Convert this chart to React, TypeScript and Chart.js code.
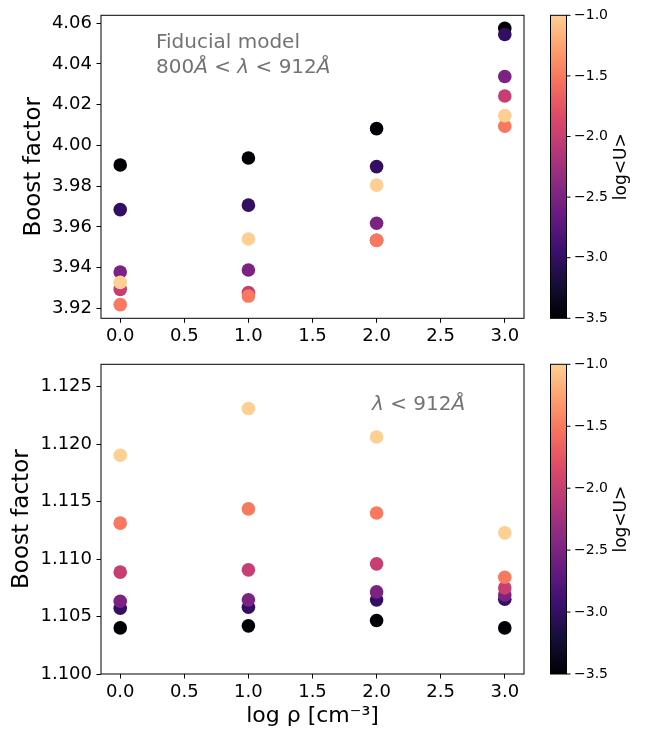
import React, { useEffect, useRef } from "react";
import { Chart, registerables } from "chart.js";

Chart.register(...registerables);

// ---------------- data ----------------
const xValues = [0, 1, 2, 3];
const uLevels = [-3.5, -3.0, -2.5, -2.0, -1.5, -1.0];

// top panel (800Å < λ < 912Å), one row per log<U> level
const topU35 = [3.9904, 3.9938, 4.0082, 4.0574];
const topU30 = [3.9685, 3.9707, 3.9896, 4.0544];
const topU25 = [3.9379, 3.9389, 3.9618, 4.0338];
const topU20 = [3.9294, 3.9278, 3.9535, 4.0242];
const topU15 = [3.9219, 3.9261, 3.9534, 4.0094];
const topU10 = [3.9328, 3.9541, 3.9805, 4.0146];

// bottom panel (λ < 912Å)
const botU35 = [1.10401, 1.10419, 1.10465, 1.10401];
const botU30 = [1.10572, 1.10581, 1.10645, 1.10651];
const botU25 = [1.10633, 1.10645, 1.10714, 1.10688];
const botU20 = [1.10886, 1.10906, 1.10958, 1.10749];
const botU15 = [1.11312, 1.11436, 1.11401, 1.10842];
const botU10 = [1.11903, 1.12309, 1.12062, 1.11228];

const topSeries = [topU35, topU30, topU25, topU20, topU15, topU10];
const botSeries = [botU35, botU30, botU25, botU20, botU15, botU10];

const xTicks = [0, 0.5, 1.0, 1.5, 2.0, 2.5, 3.0];
const topYTicks = [3.92, 3.94, 3.96, 3.98, 4.0, 4.02, 4.04, 4.06];
const botYTicks = [1.1, 1.105, 1.11, 1.115, 1.12, 1.125];
const cbarTicks = [-1.0, -1.5, -2.0, -2.5, -3.0, -3.5];
const cbarTickLabels = ["\u22121.0", "\u22121.5", "\u22122.0", "\u22122.5", "\u22123.0", "\u22123.5"];

const xLimits = [-0.15, 3.15];
const topYLimits = [3.9152, 4.0638];
const botYLimits = [1.1, 1.12694];
const cbarLimits = [-3.5, -1.0];

const yTitle = "Boost factor";
const xTitle = "log ρ [cm⁻³]";
const cbarTitle = "log<U>";

// ---------------- styling ----------------
const FONT = "DejaVu Sans";
const W = 649;
const H = 733;
const PLOT_LEFT = 101;
const PLOT_RIGHT = 524;
const CB_LEFT = 550.5;
const CB_RIGHT = 566.5;

const MAGMA = [
  [0, 0, 4],
  [20, 14, 54],
  [59, 15, 112],
  [100, 26, 128],
  [140, 41, 129],
  [183, 55, 121],
  [222, 73, 104],
  [247, 112, 92],
  [254, 159, 109],
  [254, 207, 146],
  [252, 253, 191],
];
const CMAP_MAX = 0.9;

function magma(t: number): string {
  const tt = Math.max(0, Math.min(1, t)) * 10;
  const i = Math.min(9, Math.floor(tt));
  const f = tt - i;
  const a = MAGMA[i];
  const b = MAGMA[i + 1];
  const c = [0, 1, 2].map((k) => Math.round(a[k] + (b[k] - a[k]) * f));
  return `rgb(${c[0]},${c[1]},${c[2]})`;
}
function colorFor(u: number): string {
  const t = ((u - cbarLimits[0]) / (cbarLimits[1] - cbarLimits[0])) * CMAP_MAX;
  return magma(t);
}

type Piece = { text: string; italic?: boolean };
type Annot = { x: number; y: number; pieces: Piece[] };

function makeConfig(opts: {
  series: number[][];
  yLimits: number[];
  yTicks: number[];
  decimals: number;
  top: number;
  bottom: number;
  yTitlePad: number;
  showXTitle: boolean;
  annotations: Annot[];
}) {
  const { series, yLimits, yTicks, decimals, top, bottom, yTitlePad, showXTitle, annotations } = opts;
  const xAxisH = showXTitle ? H - bottom : 32;
  const padBottom = H - bottom - xAxisH;

  const datasets = uLevels.map((u, i) => ({
    label: `log<U> = ${u}`,
    data: xValues.map((x, j) => ({ x, y: series[i][j] })),
    backgroundColor: colorFor(u),
    borderWidth: 0,
    pointRadius: 6.8,
    pointHoverRadius: 6.8,
    order: uLevels.length - 1 - i,
  }));

  const tickGrid = {
    display: true,
    drawOnChartArea: false,
    drawTicks: true,
    tickLength: 4.5,
    tickWidth: 1,
    tickColor: "#000",
    color: "#000",
  };

  const plugin = {
    id: "decor",
    afterDraw(chart: any) {
      const ctx = chart.ctx;
      const a = chart.chartArea;
      ctx.save();
      // frame
      ctx.strokeStyle = "#000";
      ctx.lineWidth = 1;
      ctx.strokeRect(a.left, a.top, a.right - a.left, a.bottom - a.top);

      // colorbar
      const cbTop = a.top;
      const cbBot = a.bottom;
      const grad = ctx.createLinearGradient(0, cbBot, 0, cbTop);
      for (let k = 0; k <= 60; k++) {
        const f = k / 60;
        grad.addColorStop(f, magma(f * CMAP_MAX));
      }
      ctx.fillStyle = grad;
      ctx.fillRect(CB_LEFT, cbTop, CB_RIGHT - CB_LEFT, cbBot - cbTop);
      ctx.strokeStyle = "#000";
      ctx.lineWidth = 1;
      ctx.strokeRect(CB_LEFT, cbTop, CB_RIGHT - CB_LEFT, cbBot - cbTop);
      ctx.font = "14px 'DejaVu Sans', sans-serif";
      ctx.fillStyle = "#000";
      ctx.textAlign = "right";
      ctx.textBaseline = "middle";
      cbarTicks.forEach((v, k) => {
        const y = cbBot - ((v - cbarLimits[0]) / (cbarLimits[1] - cbarLimits[0])) * (cbBot - cbTop);
        ctx.beginPath();
        ctx.moveTo(CB_RIGHT, y);
        ctx.lineTo(CB_RIGHT + 4, y);
        ctx.stroke();
        ctx.fillText(cbarTickLabels[k], 608, y);
      });
      ctx.save();
      ctx.translate(622, (cbTop + cbBot) / 2);
      ctx.rotate(-Math.PI / 2);
      ctx.textAlign = "center";
      ctx.font = "17px 'DejaVu Sans', sans-serif";
      ctx.fillText(cbarTitle, 0, 0);
      ctx.restore();

      // annotations
      ctx.fillStyle = "#737373";
      ctx.textAlign = "left";
      ctx.textBaseline = "alphabetic";
      annotations.forEach((an) => {
        let x = an.x;
        an.pieces.forEach((p) => {
          ctx.font = `${p.italic ? "oblique " : ""}20px 'DejaVu Sans', sans-serif`;
          ctx.fillText(p.text, x, an.y);
          x += ctx.measureText(p.text).width;
        });
      });
      ctx.restore();
    },
  };

  return {
    type: "scatter" as const,
    data: { datasets },
    plugins: [plugin],
    options: {
      animation: false,
      responsive: false,
      devicePixelRatio: 1,
      events: [],
      layout: { padding: { left: 0, right: W - PLOT_RIGHT, top, bottom: padBottom } },
      plugins: { legend: { display: false }, tooltip: { enabled: false } },
      scales: {
        x: {
          type: "linear",
          min: xLimits[0],
          max: xLimits[1],
          afterBuildTicks: (s: any) => {
            s.ticks = xTicks.map((v) => ({ value: v }));
          },
          afterFit: (s: any) => {
            s.height = xAxisH;
          },
          grid: tickGrid,
          border: { display: false },
          ticks: {
            font: { family: FONT, size: 18 },
            color: "#000",
            padding: 3,
            maxRotation: 0,
            autoSkip: false,
            callback: (v: any) => Number(v).toFixed(1),
          },
          title: {
            display: showXTitle,
            text: xTitle,
            font: { family: FONT, size: 22 },
            color: "#000",
            padding: { top: 0, bottom: 3.8 },
          },
        },
        y: {
          type: "linear",
          min: yLimits[0],
          max: yLimits[1],
          afterBuildTicks: (s: any) => {
            s.ticks = yTicks.map((v) => ({ value: v }));
          },
          afterFit: (s: any) => {
            s.width = PLOT_LEFT;
          },
          grid: tickGrid,
          border: { display: false },
          ticks: {
            font: { family: FONT, size: 18 },
            color: "#000",
            padding: 4.5,
            autoSkip: false,
            callback: (v: any) => Number(v).toFixed(decimals),
          },
          title: {
            display: true,
            text: yTitle,
            font: { family: FONT, size: 23 },
            color: "#000",
            padding: { top: yTitlePad, bottom: 0 },
          },
        },
      },
    },
  };
}

function Panel(props: { cfg: any }) {
  const ref = useRef<HTMLCanvasElement | null>(null);
  useEffect(() => {
    if (!ref.current) return;
    const chart = new Chart(ref.current, props.cfg);
    return () => chart.destroy();
  }, []);
  return (
    <canvas
      ref={ref}
      width={W}
      height={H}
      style={{ position: "absolute", left: 0, top: 0, width: W, height: H }}
    />
  );
}

export default function App() {
  const topCfg = makeConfig({
    series: topSeries,
    yLimits: topYLimits,
    yTicks: topYTicks,
    decimals: 2,
    top: 9.3,
    bottom: 318.3,
    yTitlePad: 20.2,
    showXTitle: false,
    annotations: [
      { x: 156, y: 48, pieces: [{ text: "Fiducial model" }] },
      {
        x: 156,
        y: 73,
        pieces: [
          { text: "800" },
          { text: "Å", italic: true },
          { text: " < " },
          { text: "λ", italic: true },
          { text: " < 912" },
          { text: "Å", italic: true },
        ],
      },
    ],
  });
  const botCfg = makeConfig({
    series: botSeries,
    yLimits: botYLimits,
    yTicks: botYTicks,
    decimals: 3,
    top: 364.3,
    bottom: 674,
    yTitlePad: 8.2,
    showXTitle: true,
    annotations: [
      {
        x: 372,
        y: 410,
        pieces: [{ text: "λ", italic: true }, { text: " < 912" }, { text: "Å", italic: true }],
      },
    ],
  });
  return (
    <div style={{ position: "absolute", left: 0, top: 0, width: W, height: H, background: "#fff" }}>
      <Panel cfg={topCfg} />
      <Panel cfg={botCfg} />
    </div>
  );
}
